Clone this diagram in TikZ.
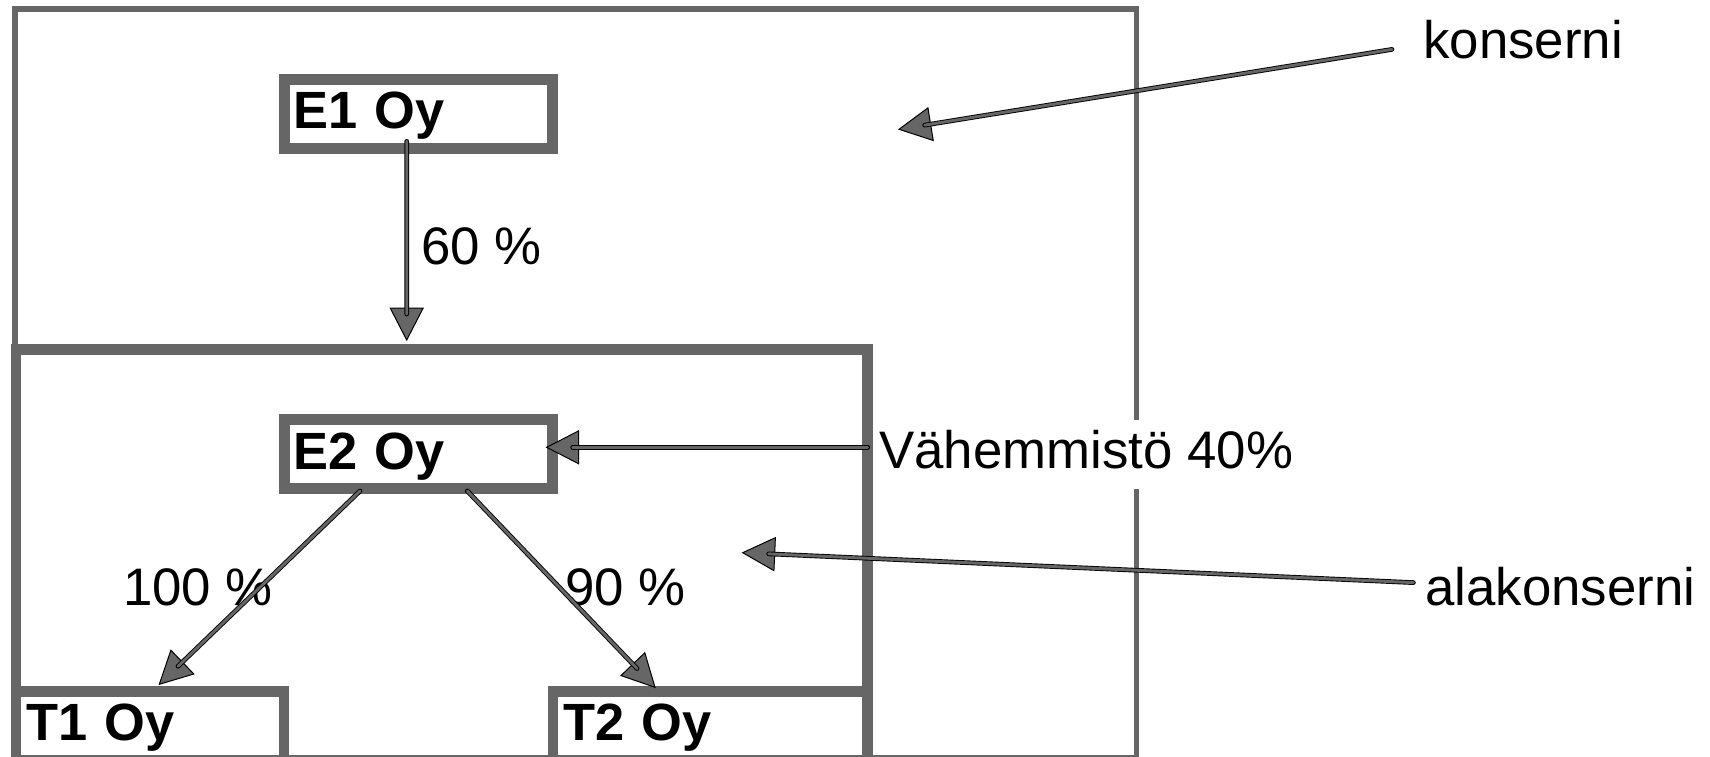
\documentclass[tikz,border=0pt]{standalone}
\usepackage{fontspec}
\setmainfont{Liberation Sans}
\usetikzlibrary{calc}
\definecolor{bd}{HTML}{666666}
\tikzset{
  frame/.style={draw=bd, line width=2.75pt, outer sep=0pt, inner sep=0pt, anchor=north west},
  heavy/.style={draw=bd, line width=5.35pt, outer sep=0pt, inner sep=0pt},
  company/.style={heavy, fill=white, minimum height=34.5pt, inner xsep=4.3pt, inner ysep=0pt,
    align=left, text height=20pt, text depth=5.2pt, font=\bfseries\fontsize{26.2pt}{30pt}\selectfont},
  lbl/.style={inner sep=0pt, anchor=base west, font=\fontsize{26.4pt}{30pt}\selectfont},
  shaft/.style={draw=bd, line width=1.45pt, line cap=round,
    preaction={draw=black, line width=2.35pt, line cap=round}},
  arrhead/.style={fill=bd, draw=black, line width=0.5pt, line join=miter},
}
\newcommand\myarrow[2]{%
  \path ($(#2)!16pt!(#1)$) coordinate (hb);
  \draw[arrhead] (#2) -- ($(hb)!8.25pt!90:(#2)$) -- ($(hb)!8.25pt!-90:(#2)$) -- cycle;
  \draw[shaft] (#1) -- ($(#2)!13pt!(#1)$);
}
\begin{document}
\begin{tikzpicture}[x=0.5pt,y=-0.5pt]
\useasboundingbox (0,0) rectangle (1710,756);
\fill[white] (0,0) rectangle (1710,756);
\clip (0,0) rectangle (1710,756);
% group frames
\node[frame, minimum width=560.85pt, minimum height=374.6pt] (kbox) at (15,8.8) {};
\node[heavy, anchor=north west, minimum width=425.85pt, minimum height=210pt] (abox) at (16,349.3) {};
% companies
\node[company, text width=125.4pt, minimum width=134pt] (E1) at (418.5,113.8) {E1 Oy};
\node[company, text width=125.4pt, minimum width=134pt] (E2) at (418.5,454.2) {E2 Oy};
\node[company, anchor=north west, inner xsep=5pt, text width=124pt, minimum width=134pt] (T1) at (16,691.3) {T1 Oy};
\node[company, anchor=north west, inner xsep=5pt, text width=147.35pt, minimum width=157.35pt] (T2) at (553,691.3) {T2 Oy};
% labels
\node[lbl] (p60) at (421,264) {60 \%};
\node[lbl] (p100) at (122.6,605) {100 \%};
\node[lbl] (p90) at (565,605) {90 \%};
\node[lbl, fill=white, inner xsep=2pt, inner ysep=5pt, text height=19pt, text depth=5.5pt] (mino) at (875,468.3) {Vähemmistö 40\%};
\node[lbl] (kons) at (1423,58.3) {konserni};
\node[lbl] (alak) at (1424.8,605.3) {alakonserni};
% connector end points
\coordinate (s1) at ($(E1.south)+(-11.8,-7)$);
\coordinate (t1) at ($(abox.north west)+(390.7,-9.3)$);
\coordinate (s2) at ($(E2.south)+(-58.5,2.3)$);
\coordinate (t2) at ($(T1.north west)+(143.3,-7)$);
\coordinate (s3) at ($(E2.south)+(48.8,2.3)$);
\coordinate (t3) at ($(T2.north west)+(102,-4)$);
\coordinate (s4) at ($(mino.west)+(-7.3,-7.5)$);
\coordinate (t4) at ($(E2.east)+(-5.8,-6.9)$);
\coordinate (s5) at ($(kons.base west)+(-31,-8.9)$);
\coordinate (t5) at (899,129.3);
\coordinate (s6) at ($(alak.base west)+(-11.4,-22.7)$);
\coordinate (t6) at (742.7,552.7);
% connectors
\myarrow{s1}{t1}
\myarrow{s2}{t2}
\myarrow{s3}{t3}
\myarrow{s4}{t4}
\myarrow{s5}{t5}
\myarrow{s6}{t6}
\end{tikzpicture}
\end{document}
